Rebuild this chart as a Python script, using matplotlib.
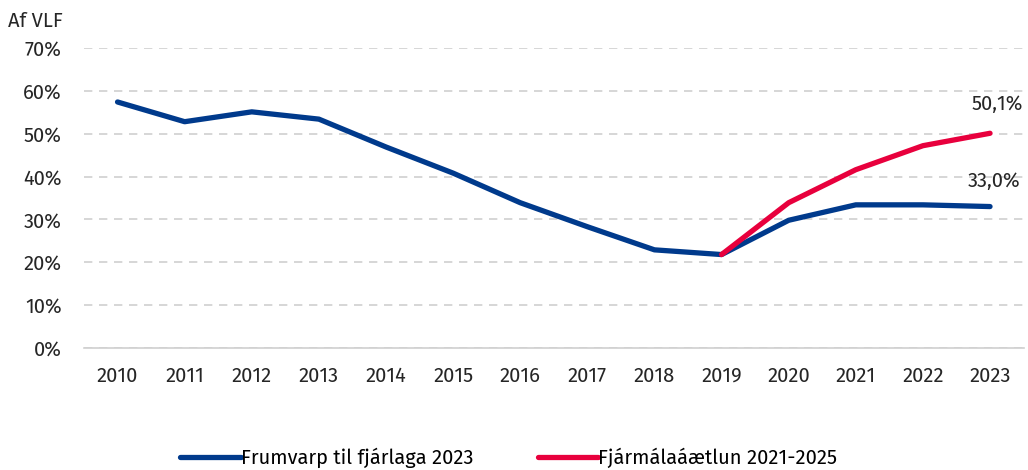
import matplotlib
matplotlib.use("Agg")
import matplotlib.pyplot as plt
from matplotlib.ticker import FuncFormatter

plt.rcParams['font.family'] = ['Fira Sans', 'Noto Sans', 'DejaVu Sans']

years = [str(y) for y in range(2010, 2024)]
# Frumvarp til fjárlaga 2023
frumvarp = [57.4, 52.8, 55.1, 53.4, 46.9, 40.8, 33.9, 28.3, 22.9, 21.8, 29.8, 33.4, 33.4, 33.0]
# Fjármálaáætlun 2021-2025 (from 2019)
fjarmal = [21.8, 33.9, 41.6, 47.2, 50.1]

blue = '#003A8C'
red = '#E8003D'
txt = '#262626'
fs = 14.5

fig = plt.figure(figsize=(10.28, 4.7), dpi=100)
ax = fig.add_axes([0.0817, 0.2596, 0.914, 0.6383])

x = list(range(len(years)))
ax.plot(x, frumvarp, color=blue, lw=3.8, solid_capstyle='round', label='Frumvarp til fjárlaga 2023', zorder=3)
ax.plot(x[9:], fjarmal, color=red, lw=3.8, solid_capstyle='round', label='Fjármálaáætlun 2021-2025', zorder=4)

ax.set_xlim(-0.5, len(years) - 0.5)
ax.set_ylim(0, 70)
ax.set_yticks(range(0, 71, 10))
ax.yaxis.set_major_formatter(FuncFormatter(lambda v, p: f'{int(v)}%'))
ax.set_xticks(x)
ax.set_xticklabels(years)

ax.grid(axis='y', color='#d0d0d0', ls=(0, (5, 4)), lw=1.2)
for s in ['top', 'right', 'left']:
    ax.spines[s].set_visible(False)
ax.spines['bottom'].set_color('#d0d0d0')
ax.spines['bottom'].set_linewidth(1.2)
ax.tick_params(length=0, labelsize=fs, colors=txt)
ax.tick_params(axis='x', pad=13)
ax.tick_params(axis='y', pad=16)

ax.annotate(f'{fjarmal[-1]:.1f}%'.replace('.', ','), (x[-1], fjarmal[-1]),
            xytext=(5, 17), textcoords='offset points', ha='center', fontsize=fs, color=txt)
ax.annotate(f'{frumvarp[-1]:.1f}%'.replace('.', ','), (x[-1], frumvarp[-1]),
            xytext=(3, 14), textcoords='offset points', ha='center', fontsize=fs, color=txt)

fig.text(0.008, 0.955, 'Af VLF', fontsize=fs, color=txt, va='center')

fig.legend(loc='lower center', bbox_to_anchor=(0.495, -0.035), ncol=2, frameon=False,
           fontsize=fs, handlelength=3.0, handletextpad=0.0, columnspacing=3.2)

fig.savefig('out.png', dpi=100)
